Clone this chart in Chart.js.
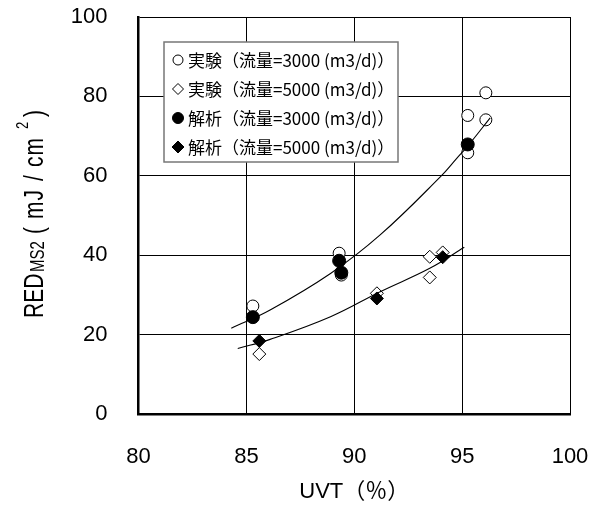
<!DOCTYPE html>
<html lang="ja">
<head>
<meta charset="utf-8">
<title>RED vs UVT</title>
<script src="https://cdn.jsdelivr.net/npm/chart.js@4.4.0/dist/chart.umd.min.js"></script>
<style>
  html, body { margin:0; padding:0; background:#fff; }
  #wrap { width:598px; height:507px; }
</style>
</head>
<body>
<div id="wrap"><canvas id="chart" width="598" height="507"></canvas></div>
<script>
// measured points [UVT %, RED mJ/cm2]
const exp3000 = [[85.3,27.2],[89.3,40.5],[89.4,35.0],[95.26,75.2],[95.26,65.8],[96.1,80.9],[96.1,74.1]];
const exp5000 = [[85.6,15.1],[91.05,30.4],[93.5,39.6],[94.1,40.7],[93.5,34.4]];
const ana3000 = [[85.3,24.4],[89.3,38.6],[89.4,35.6],[95.26,67.9]];
const ana5000 = [[85.6,18.4],[91.05,29.1],[94.1,39.5]];
// trend curves
const trend3000 = [[84.3,21.6],[86.1,26.2],[88.9,35.4],[91.2,45.1],[94.0,59.8],[94.75,64.4],[95.26,67.5],[96.3,74.6]];
const trend5000 = [[84.6,16.5],[86.1,18.8],[88.9,24.5],[91.2,30.8],[93.5,36.7],[95.1,42.0]];

const xTicks = [80, 85, 90, 95, 100];
const yTicks = [0, 20, 40, 60, 80, 100];

const labels = [
  '実験（流量=3000 (m3/d)）',
  '実験（流量=5000 (m3/d)）',
  '解析（流量=3000 (m3/d)）',
  '解析（流量=5000 (m3/d)）'
];

const pts = arr => arr.map(p => ({ x: p[0], y: p[1] }));

function marker(ctx, style, filled, r, x, y, lw) {
  ctx.save();
  ctx.beginPath();
  if (style === 'circle') {
    ctx.arc(x, y, r, 0, Math.PI * 2);
  } else {
    ctx.moveTo(x, y - r); ctx.lineTo(x + r, y); ctx.lineTo(x, y + r); ctx.lineTo(x - r, y);
    ctx.closePath();
  }
  ctx.fillStyle = filled ? '#000' : '#fff';
  ctx.fill();
  ctx.lineWidth = lw;
  ctx.strokeStyle = '#000';
  ctx.stroke();
  ctx.restore();
}

const boxLegend = {
  id: 'boxLegend',
  afterDraw(chart) {
    const ctx = chart.ctx;
    ctx.save();
    ctx.fillStyle = '#fff';
    ctx.fillRect(164, 42, 234, 120);
    ctx.strokeStyle = '#777';
    ctx.lineWidth = 1.5;
    ctx.strokeRect(164, 42, 234, 120);
    const specs = [['circle', false, 5], ['diamond', false, 5.5], ['circle', true, 5.5], ['diamond', true, 6]];
    ctx.font = '17px "Noto Sans CJK JP"';
    ctx.textBaseline = 'middle';
    for (let i = 0; i < 4; i++) {
      const y = 60 + i * 29;
      marker(ctx, specs[i][0], specs[i][1], specs[i][2], 178, y, 1);
      ctx.fillStyle = '#000';
      ctx.fillText(labels[i], 188, y + 1);
    }
    ctx.restore();
  }
};

// y axis title with subscript / superscript, each piece placed on its own
const yTitle = {
  id: 'yTitle',
  afterDraw(chart) {
    const ctx = chart.ctx;
    const part = (t, baseX, along, size, sp) => {
      ctx.save();
      ctx.translate(baseX, 318 - along);
      ctx.rotate(-Math.PI / 2);
      ctx.scale(1, 1.33);
      ctx.fillStyle = '#000';
      ctx.textBaseline = 'alphabetic';
      ctx.textAlign = 'left';
      ctx.font = size + 'px "Liberation Sans"';
      ctx.letterSpacing = sp || '0px';
      ctx.fillText(t, 0, 0);
      ctx.restore();
    };
    part('RED', 43, 0, 21);
    part('MS2', 44, 46, 15);
    part('(', 43, 84, 21);
    part('mJ', 43, 99, 21, '1px');
    part('/', 43, 137, 21);
    part('cm', 43, 151, 21, '1px');
    part('2', 28, 189, 13);
    part(')', 43, 201, 21);
  }
};

new Chart(document.getElementById('chart'), {
  type: 'scatter',
  data: {
    datasets: [
      { label: 'trend3000', data: pts(trend3000), showLine: true, pointRadius: 0, borderColor: '#000', borderWidth: 1.1, tension: 0.4, order: 0 },
      { label: 'trend5000', data: pts(trend5000), showLine: true, pointRadius: 0, borderColor: '#000', borderWidth: 1.1, tension: 0.4, order: 0 },
      { label: labels[2], data: pts(ana3000), pointStyle: 'circle', pointRadius: 6.5, backgroundColor: '#000', borderColor: '#000', borderWidth: 1, order: 1 },
      { label: labels[3], data: pts(ana5000), pointStyle: 'rectRot', pointRadius: 6.5, backgroundColor: '#000', borderColor: '#000', borderWidth: 1, order: 1 },
      { label: labels[0], data: pts(exp3000), pointStyle: 'circle', pointRadius: 6, backgroundColor: '#fff', borderColor: '#000', borderWidth: 1, order: 2 },
      { label: labels[1], data: pts(exp5000), pointStyle: 'rectRot', pointRadius: 6.5, backgroundColor: '#fff', borderColor: '#000', borderWidth: 1, order: 2 }
    ]
  },
  options: {
    responsive: false,
    animation: false,
    layout: { padding: { top: 17, right: 28, left: 0, bottom: 0 } },
    plugins: { legend: { display: false }, tooltip: { enabled: false } },
    scales: {
      x: {
        type: 'linear', min: 80, max: 100,
        afterBuildTicks: s => { s.ticks = xTicks.map(v => ({ value: v })); },
        afterFit: s => { s.height = 93; s.paddingLeft = 0; s.paddingRight = 0; },
        ticks: { color: '#000', padding: 30, font: { family: 'Liberation Sans', size: 22 } },
        grid: { color: '#000', lineWidth: 1, drawTicks: false },
        border: { color: '#000', width: 2.5 },
        title: { display: true, text: 'UVT（％）', color: '#000', padding: { top: 0, bottom: 2 },
                 font: { family: '"Liberation Sans", "Noto Sans CJK JP"', size: 22 } }
      },
      y: {
        type: 'linear', min: 0, max: 100,
        afterBuildTicks: s => { s.ticks = yTicks.map(v => ({ value: v })); },
        afterFit: s => { s.width = 138.5; s.paddingTop = 0; s.paddingBottom = 0; },
        ticks: { color: '#000', padding: 31, font: { family: 'Liberation Sans', size: 22 } },
        grid: { color: '#000', lineWidth: 1, drawTicks: false },
        border: { color: '#000', width: 2.5 }
      }
    }
  },
  plugins: [boxLegend, yTitle]
});
</script>
</body>
</html>
